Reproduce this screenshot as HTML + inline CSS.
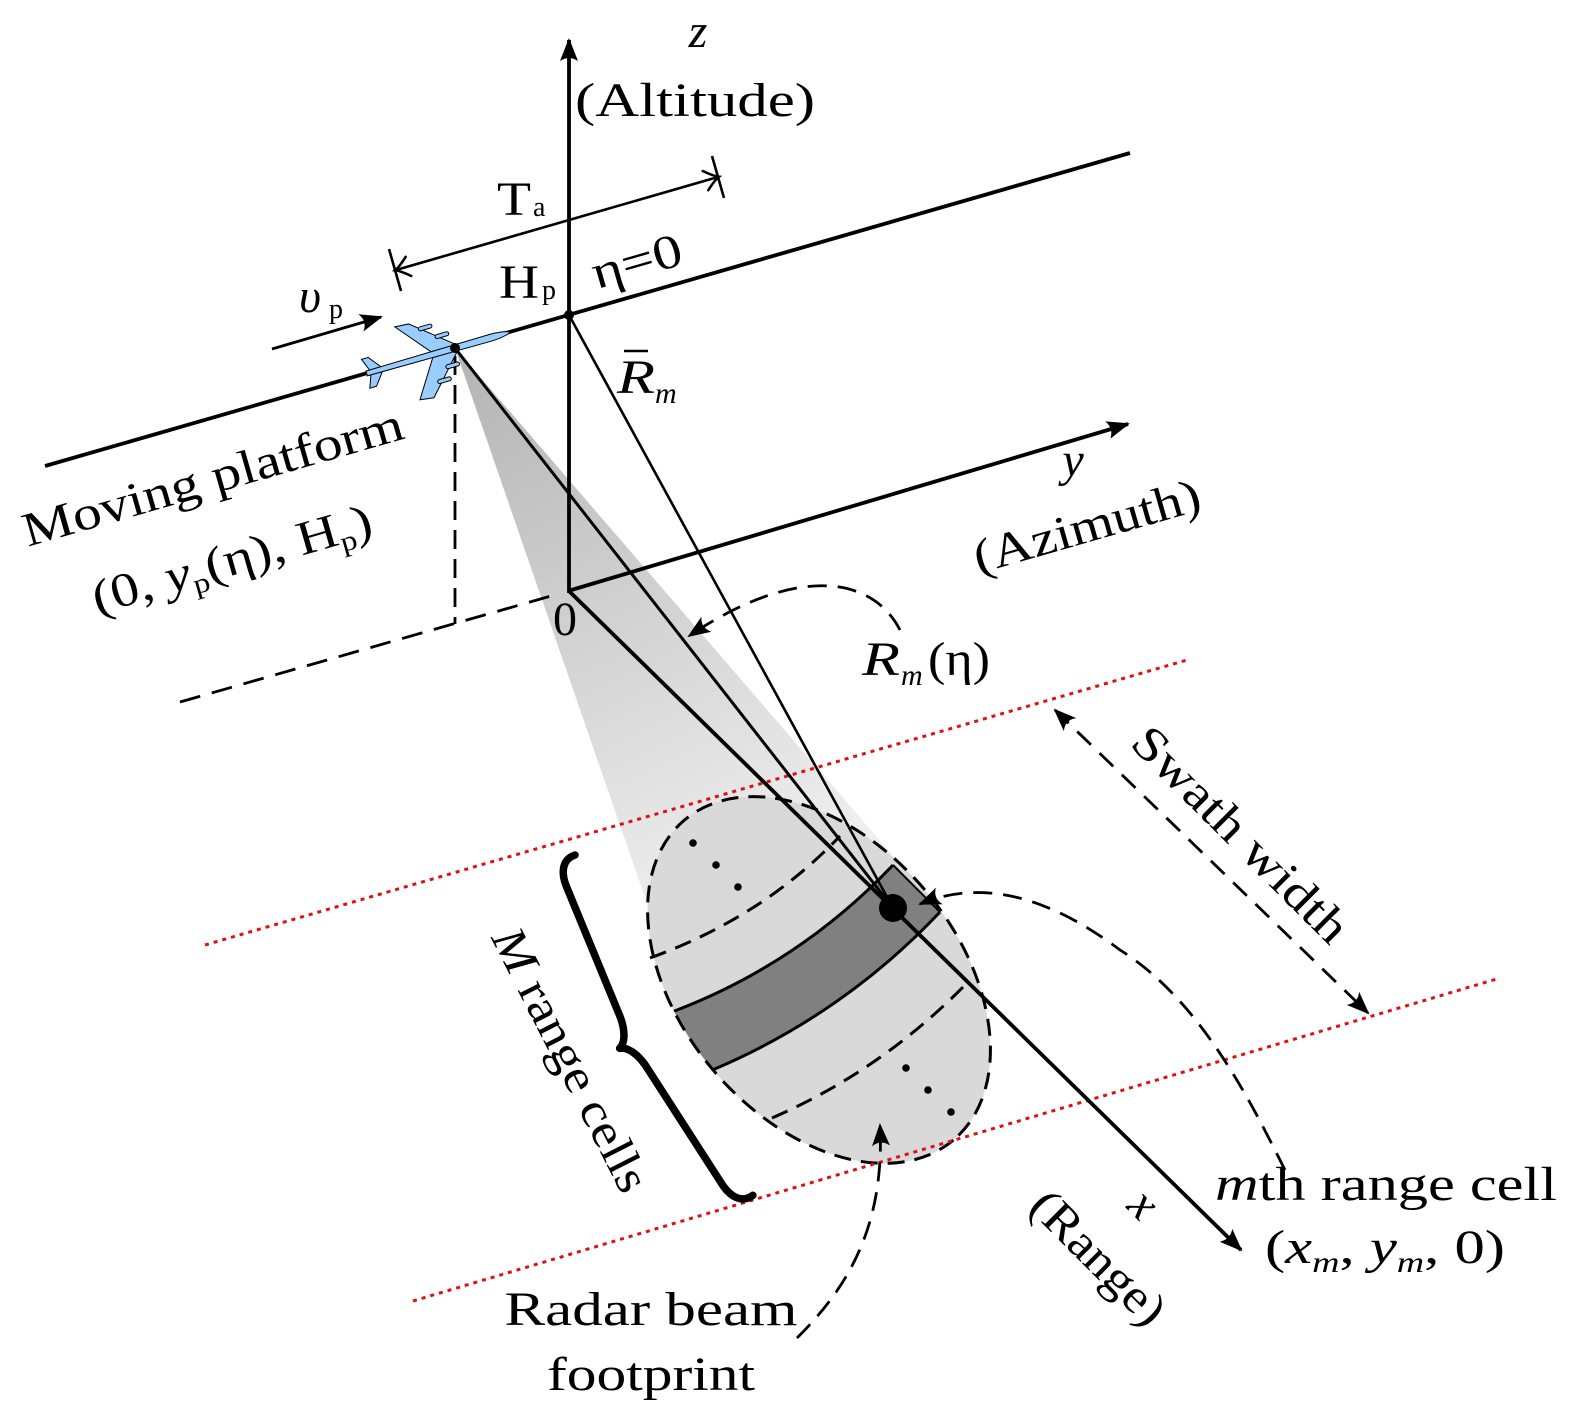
<!DOCTYPE html>
<html><head><meta charset="utf-8">
<style>html,body{margin:0;padding:0;background:#fff}svg{display:block}</style>
</head>
<body>
<svg xmlns="http://www.w3.org/2000/svg" width="1575" height="1407" viewBox="0 0 1575 1407" font-family="'Liberation Serif', serif" font-size="48">
<defs>
  <linearGradient id="beam" gradientUnits="userSpaceOnUse" x1="455" y1="348" x2="720" y2="900">
    <stop offset="0" stop-color="#b3b3b3"/>
    <stop offset="1" stop-color="#efefef"/>
  </linearGradient>
  <clipPath id="ec"><ellipse cx="819" cy="980" rx="209" ry="139" transform="rotate(50 819 980)"/></clipPath>
  <marker id="ah" viewBox="-24 -11 28 22" refX="0" refY="0" markerWidth="28" markerHeight="22" markerUnits="userSpaceOnUse" orient="auto-start-reverse" overflow="visible">
    <path d="M2,0 L-21,-9 Q-15,0 -21,9 Z" fill="#000"/>
  </marker>
  <marker id="as" viewBox="-24 -11 28 22" refX="0" refY="0" markerWidth="28" markerHeight="22" markerUnits="userSpaceOnUse" orient="auto-start-reverse" overflow="visible">
    <path d="M2,0 L-21,-9 Q-14,0 -21,9 Z" fill="#000"/>
  </marker>
  <marker id="ao" viewBox="-16 -12 20 24" refX="0" refY="0" markerWidth="20" markerHeight="24" markerUnits="userSpaceOnUse" orient="auto-start-reverse" overflow="visible">
    <path d="M-13,-10 Q-4,-2 1,0 Q-4,2 -13,10" fill="none" stroke="#000" stroke-width="2.5" stroke-linecap="round"/>
  </marker>
</defs>

<!-- beam -->
<polygon points="455,348 895,858 650,912" fill="url(#beam)"/>

<!-- footprint -->
<ellipse cx="819" cy="980" rx="209" ry="139" transform="rotate(50 819 980)" fill="#d9d9d9"/>
<g clip-path="url(#ec)">
  <path d="M652,1020 L677,1010 Q801,962 893,865 L940,912 Q844.6,1013 717,1068 L690,1080 Z" fill="#808080"/>
  <path d="M652,1020 L677,1010 Q801,962 893,865" fill="none" stroke="#000" stroke-width="3"/>
  <path d="M940,912 Q844.6,1013 717,1068 L690,1080" fill="none" stroke="#000" stroke-width="3"/>
  <path d="M893,865 L940,912" fill="none" stroke="#000" stroke-width="2"/>
</g>
<path d="M650,958 Q763,917 840,836" fill="none" stroke="#000" stroke-width="3" stroke-dasharray="17 10"/>
<path d="M772,1118 Q883,1070 970,980" fill="none" stroke="#000" stroke-width="3" stroke-dasharray="17 10"/>
<ellipse cx="819" cy="980" rx="209" ry="139" transform="rotate(50 819 980)" fill="none" stroke="#000" stroke-width="3" stroke-dasharray="17 10"/>
<g fill="#000">
  <circle cx="693" cy="843" r="3.8"/><circle cx="716" cy="865" r="3.8"/><circle cx="738" cy="887" r="3.8"/>
  <circle cx="906" cy="1068" r="3.8"/><circle cx="928" cy="1090" r="3.8"/><circle cx="951" cy="1112" r="3.8"/>
</g>

<!-- red dotted swath lines -->
<line x1="205" y1="945" x2="1187" y2="660" stroke="#e01010" stroke-width="3" stroke-dasharray="4 5"/>
<line x1="413" y1="1301" x2="1500" y2="978" stroke="#e01010" stroke-width="3" stroke-dasharray="4 5"/>

<!-- dashed ground lines -->
<g stroke="#000" stroke-width="2.8" fill="none" stroke-dasharray="21 12">
  <line x1="180" y1="702" x2="558" y2="594"/>
  <line x1="455" y1="356" x2="455" y2="624" stroke-dasharray="19 10"/>
</g>

<!-- axes and lines -->
<g stroke="#000" fill="none">
  <line x1="45" y1="466" x2="1130" y2="153" stroke-width="3.8"/>
  <line x1="569" y1="593" x2="569" y2="40" stroke-width="3.8" marker-end="url(#ah)"/>
  <line x1="568" y1="591" x2="1128" y2="424" stroke-width="3.8" marker-end="url(#ah)"/>
  <line x1="569" y1="591" x2="1241" y2="1250" stroke-width="3.8" marker-end="url(#ah)"/>
  <line x1="569" y1="315" x2="893" y2="908" stroke-width="2.6"/>
  <line x1="455" y1="348" x2="893" y2="908" stroke-width="3"/>
  <!-- T_a -->
  <line x1="396" y1="270" x2="718" y2="177" stroke-width="2.6" marker-start="url(#ao)" marker-end="url(#ao)"/>
  <line x1="389" y1="249" x2="401" y2="291" stroke-width="2.6"/>
  <line x1="712" y1="156" x2="724" y2="198" stroke-width="2.6"/>
  <!-- v_p -->
  <line x1="272" y1="349" x2="381" y2="317" stroke-width="2.8" marker-end="url(#as)"/>
  <!-- swath width -->
  <line x1="1055" y1="710" x2="1368" y2="1013" stroke-width="2.8" stroke-dasharray="19 12" marker-start="url(#as)" marker-end="url(#as)"/>
  <!-- pointers -->
  <path d="M900,630 C870,572 790,568 689,636" stroke-width="2.8" stroke-dasharray="19 11" marker-end="url(#as)"/>
  <path d="M1285,1170 C1250,1100 1200,1000 1120,950 C1060,905 990,875 920,904" stroke-width="2.8" stroke-dasharray="19 11" marker-end="url(#as)"/>
  <path d="M797,1338 C845,1290 885,1230 880,1125" stroke-width="2.8" stroke-dasharray="19 11" marker-end="url(#as)"/>
  <!-- brace -->
  <path transform="translate(575,855) rotate(62.4)" d="M0,0 C-2,13 8,20 22,22 L165,35 C180,37 190,43 192,50 C194,43 204,37 219,35 L362,22 C376,20 386,13 384,0" stroke-width="7.5" stroke-linejoin="round" stroke-linecap="round"/>
</g>

<!-- plane -->
<g transform="translate(455,348) rotate(-16.1)" fill="#99ccff" stroke="#000" stroke-width="1">
  <path d="M2,-3 L-38,-36 L-52,-37 L-24,-3 Z"/>
  <path d="M2,3 L-34,42 L-48,40 L-24,3 Z"/>
  <rect x="-16" y="-18" width="14" height="4" rx="2"/>
  <rect x="-30" y="-30" width="14" height="4" rx="2"/>
  <rect x="-14" y="14" width="14" height="4" rx="2"/>
  <rect x="-26" y="26" width="14" height="4" rx="2"/>
  <path d="M-76,-2 L-86,-15 L-93,-15 L-88,-2 Z"/>
  <path d="M-76,2 L-86,15 L-93,15 L-88,2 Z"/>
  <path d="M-92,-2.5 L38,-3.5 Q52,-3 58,0 Q52,3 38,3.5 L-92,2.5 Z"/>
</g>

<!-- dots -->
<circle cx="569" cy="315" r="5" fill="#000"/>
<circle cx="455" cy="348" r="5" fill="#000"/>
<circle cx="893" cy="908" r="14" fill="#000"/>

<!-- labels -->
<g fill="#000">
  <text x="698" y="47" font-style="italic" text-anchor="middle">z</text>
  <text x="695" y="116" text-anchor="middle" textLength="240" lengthAdjust="spacingAndGlyphs">(Altitude)</text>

  <text x="497" y="215" font-size="48" textLength="34" lengthAdjust="spacingAndGlyphs">T</text>
  <text x="533" y="216" font-size="28">a</text>
  <text x="499" y="298" font-size="48" textLength="40" lengthAdjust="spacingAndGlyphs">H</text>
  <text x="542" y="299" font-size="28">p</text>
  <text transform="translate(637,262) rotate(-16)" y="15" text-anchor="middle" textLength="92" lengthAdjust="spacingAndGlyphs">η=0</text>

  <text x="299" y="312" font-style="italic" font-size="48">υ</text>
  <text x="329" y="318" font-size="28">p</text>

  <text x="617" y="393" font-style="italic" font-size="48" textLength="38" lengthAdjust="spacingAndGlyphs">R</text>
  <line x1="624" y1="351" x2="648" y2="351" stroke="#000" stroke-width="2.5"/>
  <text x="655" y="403" font-style="italic" font-size="30">m</text>

  <text x="1073" y="476" font-style="italic" text-anchor="middle">y</text>
  <text transform="translate(1087,527) rotate(-16)" y="15" text-anchor="middle" textLength="234" lengthAdjust="spacingAndGlyphs">(Azimuth)</text>

  <text transform="translate(213,478) rotate(-16)" y="15" text-anchor="middle" textLength="394" lengthAdjust="spacingAndGlyphs">Moving platform</text>
  <text transform="translate(232,560) rotate(-16)" y="15" text-anchor="middle" textLength="289" lengthAdjust="spacingAndGlyphs">(0, <tspan font-style="italic">y</tspan><tspan font-size="28" dy="8">p</tspan><tspan dy="-8">(η), H</tspan><tspan font-size="28" dy="8">p</tspan><tspan dy="-8">)</tspan></text>

  <text x="565" y="635" text-anchor="middle">0</text>

  <text x="862" y="675" font-style="italic" textLength="38" lengthAdjust="spacingAndGlyphs">R</text>
  <text x="901" y="685" font-style="italic" font-size="30">m</text>
  <text x="928" y="675" textLength="62" lengthAdjust="spacingAndGlyphs">(η)</text>

  <text transform="translate(1240,835) rotate(45)" y="15" text-anchor="middle" textLength="285" lengthAdjust="spacingAndGlyphs">Swath width</text>
  <text transform="translate(570,1060) rotate(63)" y="15" text-anchor="middle" textLength="290" lengthAdjust="spacingAndGlyphs"><tspan font-style="italic">M</tspan> range cells</text>

  <text x="1215" y="1200" textLength="342" lengthAdjust="spacingAndGlyphs"><tspan font-style="italic">m</tspan>th range cell</text>
  <text x="1265" y="1263" textLength="240" lengthAdjust="spacingAndGlyphs">(<tspan font-style="italic">x</tspan><tspan font-style="italic" font-size="30" dy="9">m</tspan><tspan dy="-9">, </tspan><tspan font-style="italic">y</tspan><tspan font-style="italic" font-size="30" dy="9">m</tspan><tspan dy="-9">, 0)</tspan></text>

  <text transform="translate(1140,1208) rotate(45)" y="10" text-anchor="middle" font-style="italic">x</text>
  <text transform="translate(1098,1258) rotate(45)" y="15" text-anchor="middle" textLength="170" lengthAdjust="spacingAndGlyphs">(Range)</text>

  <text x="651" y="1325" text-anchor="middle" textLength="293" lengthAdjust="spacingAndGlyphs">Radar beam</text>
  <text x="651" y="1390" text-anchor="middle" textLength="208" lengthAdjust="spacingAndGlyphs">footprint</text>
</g>
</svg>
</body></html>
